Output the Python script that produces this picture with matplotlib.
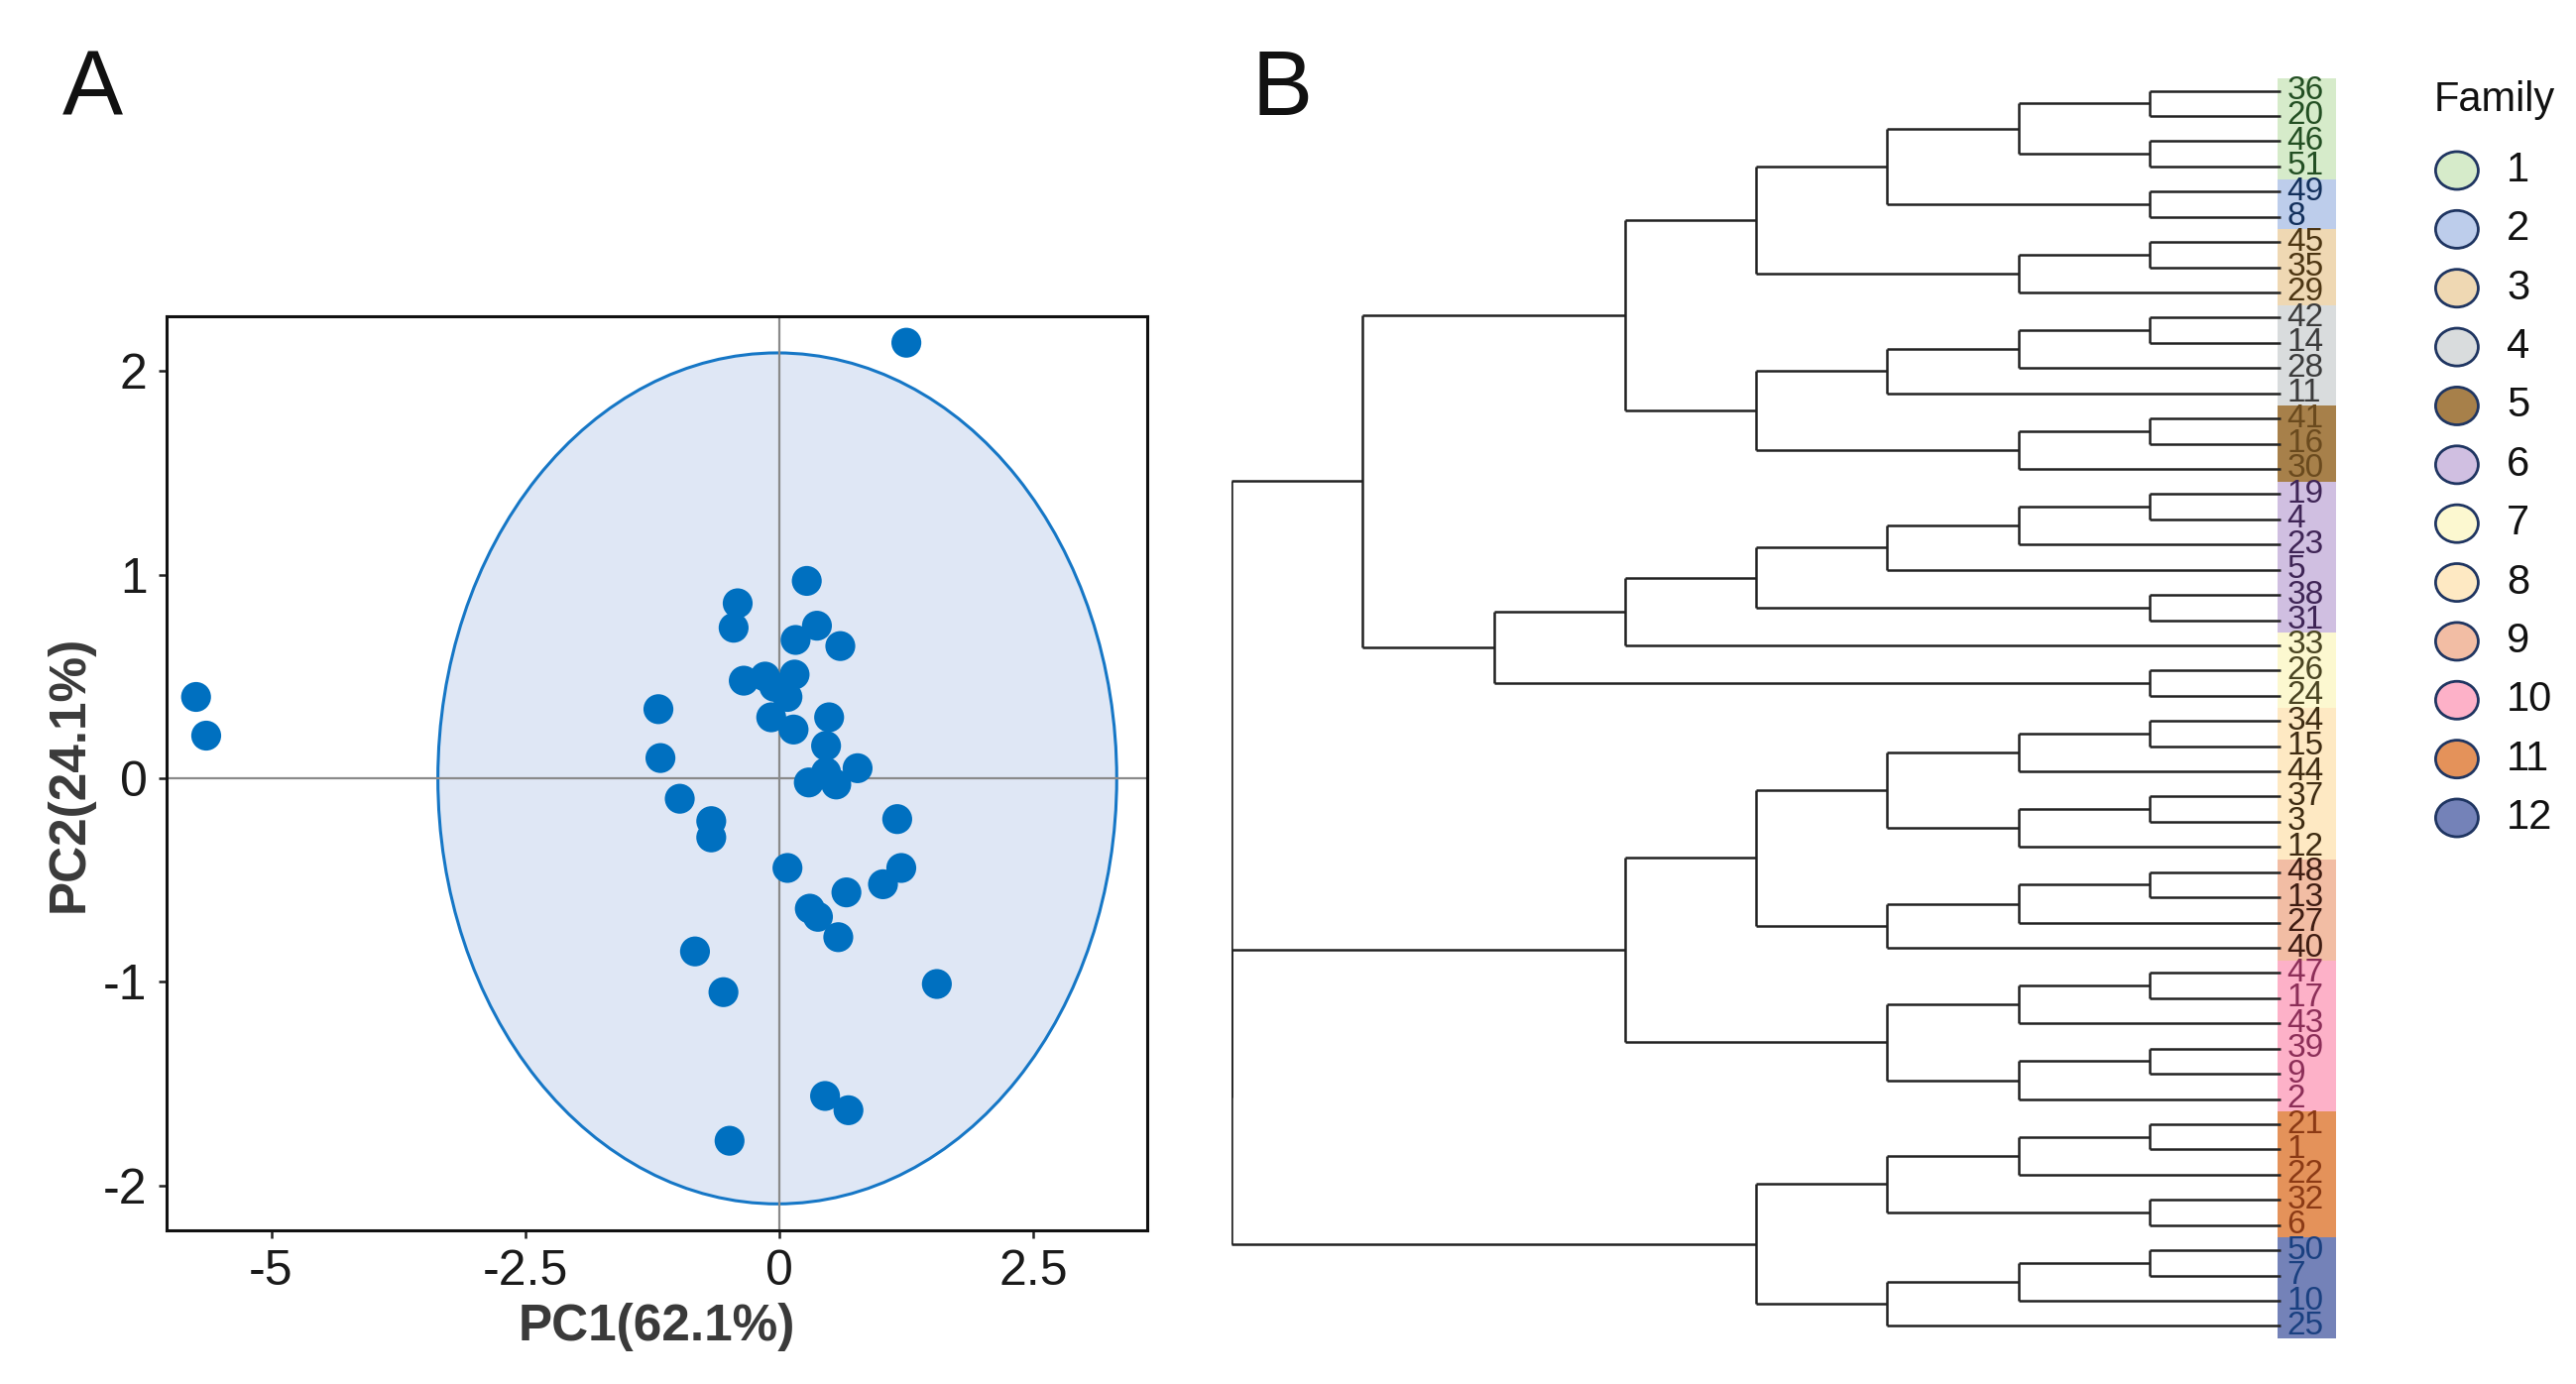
import matplotlib
matplotlib.use('Agg')
import matplotlib.pyplot as plt
from matplotlib.patches import Ellipse, Rectangle
from matplotlib.path import Path
from matplotlib.transforms import Affine2D

plt.rcParams['font.family'] = ['Liberation Sans', 'DejaVu Sans']
plt.rcParams['axes.unicode_minus'] = False

# ---------------- Panel A data (PCA scores) ----------------
pc1 = [1.25, -5.74, -5.64, 0.27, -0.41, -0.45, 0.37, 0.16, 0.60, -0.35, -0.14,
       -0.05, 0.15, 0.08, -1.19, -0.08, 0.49, 0.14, 0.46, -1.17, 0.77, 0.46,
       0.29, 0.56, -0.98, -0.67, -0.67, 1.16, 0.08, 1.20, 1.02, 0.66, 0.30,
       0.38, 0.58, -0.83, 1.55, -0.55, 0.45, 0.68, -0.49]
pc2 = [2.14, 0.40, 0.21, 0.97, 0.86, 0.74, 0.75, 0.68, 0.65, 0.48, 0.50,
       0.45, 0.51, 0.40, 0.34, 0.30, 0.30, 0.24, 0.16, 0.10, 0.05, 0.03,
       -0.02, -0.03, -0.10, -0.21, -0.29, -0.20, -0.44, -0.44, -0.52, -0.56, -0.64,
       -0.68, -0.78, -0.85, -1.01, -1.05, -1.56, -1.63, -1.78]
ellipse_center = (-0.02, 0.0)
ellipse_width = 6.68
ellipse_height = 4.18
x_ticks = [-5, -2.5, 0, 2.5]
x_tick_labels = ['-5', '-2.5', '0', '2.5']
y_ticks = [-2, -1, 0, 1, 2]
y_tick_labels = ['-2', '-1', '0', '1', '2']
x_label = 'PC1(62.1%)'
y_label = 'PC2(24.1%)'

# ---------------- Panel B data (dendrogram) ----------------
# internal node = (height, left, right); leaves = sample labels
tree = (8,
        (7,
         (5,
          (4,
           (3, (2, (1, '36', '20'), (1, '46', '51')), (1, '49', '8')),
           (2, (1, '45', '35'), '29')),
          (4,
           (3, (2, (1, '42', '14'), '28'), '11'),
           (2, (1, '41', '16'), '30'))),
         (6,
          (5,
           (4, (3, (2, (1, '19', '4'), '23'), '5'), (1, '38', '31')),
           '33'),
          (1, '26', '24'))),
        (8,
         (5,
          (4,
           (3, (2, (1, '34', '15'), '44'), (2, (1, '37', '3'), '12')),
           (3, (2, (1, '48', '13'), '27'), '40')),
          (3, (2, (1, '47', '17'), '43'), (2, (1, '39', '9'), '2'))),
         (4,
          (3, (2, (1, '21', '1'), '22'), (1, '32', '6')),
          (3, (2, (1, '50', '7'), '10'), '25'))))

family_names = ['1', '2', '3', '4', '5', '6', '7', '8', '9', '10', '11', '12']
family_members = [
    ['36', '20', '46', '51'],
    ['49', '8'],
    ['45', '35', '29'],
    ['42', '14', '28', '11'],
    ['41', '16', '30'],
    ['19', '4', '23', '5', '38', '31'],
    ['33', '26', '24'],
    ['34', '15', '44', '37', '3', '12'],
    ['48', '13', '27', '40'],
    ['47', '17', '43', '39', '9', '2'],
    ['21', '1', '22', '32', '6'],
    ['50', '7', '10', '25'],
]
family_fill = ['#d6ebca', '#bdcdeb', '#efd8b3', '#d9dcdd', '#a7804a', '#d0bfe1',
               '#fcf8d0', '#fee9c3', '#f2bda4', '#fdb1c8', '#e4925a', '#7482b8']
family_text = ['#234f23', '#13305c', '#4d3613', '#3c3c3c', '#6a4a1e', '#3f2556',
               '#4a4522', '#3f2c12', '#3e1c12', '#8c2e58', '#8b3a15', '#1a4080']

# ---------------- figure ----------------
W, H, DPI = 2598, 1396, 200
fig = plt.figure(figsize=(W / DPI, H / DPI), dpi=DPI)
fig.patch.set_facecolor('white')


def px_axes(x0, y0, x1, y1):
    return fig.add_axes([x0 / W, 1 - y1 / H, (x1 - x0) / W, (y1 - y0) / H])


# ---------- Panel A ----------
ax = px_axes(168, 319, 1157, 1241)
ax.set_xlim(-6.03, 3.62)
ax.set_ylim(-2.22, 2.27)
ax.add_patch(Ellipse(ellipse_center, ellipse_width, ellipse_height,
                     facecolor='#dfe7f5', edgecolor='#1677c6', lw=1.1, zorder=1))
ax.axhline(0, color='#8a8a8a', lw=0.8, zorder=2)
ax.axvline(0, color='#8a8a8a', lw=0.8, zorder=2)
ax.scatter(pc1, pc2, s=118, color='#0070c0', edgecolors='none', zorder=3)
ax.set_xticks(x_ticks)
ax.set_xticklabels(x_tick_labels)
ax.set_yticks(y_ticks)
ax.set_yticklabels(y_tick_labels)
ax.tick_params(labelsize=18, length=3, width=0.9, color='#222222',
               labelcolor='#1a1a1a', direction='out')
ax.tick_params(axis='x', pad=4)
ax.tick_params(axis='y', pad=4)
for sp in ax.spines.values():
    sp.set_linewidth(1.1)
    sp.set_color('#111111')
ax.set_xlabel(x_label, fontsize=18.5, fontweight='bold', color='#3a3a3a')
ax.set_ylabel(y_label, fontsize=18.5, fontweight='bold', color='#3a3a3a')
ax.xaxis.label.set_va('center')
ax.yaxis.label.set_va('center')
ax.xaxis.set_label_coords(0.4995, -0.106)
ax.yaxis.set_label_coords(-0.099, 0.5)

# ---------- Panel B ----------
n_leaves = sum(len(m) for m in family_members)
axd = px_axes(1242, 78.8, 2356, 1350.2)
axd.set_xlim(8, -0.4234)
axd.set_ylim(n_leaves - 0.5, -0.5)
axd.axis('off')

leaf_pos = {}
counter = [0]
line_kw = dict(color='#222222', lw=0.9, solid_capstyle='butt')


def draw(node):
    if isinstance(node, str):
        y = counter[0]
        counter[0] += 1
        leaf_pos[node] = y
        return 0.0, float(y)
    h, a, b = node
    ha_, ya = draw(a)
    hb_, yb = draw(b)
    axd.plot([ha_, h], [ya, ya], **line_kw)
    axd.plot([hb_, h], [yb, yb], **line_kw)
    axd.plot([h, h], [ya, yb], **line_kw)
    return h, (ya + yb) / 2


draw(tree)

for fi, members in enumerate(family_members):
    ys = [leaf_pos[m] for m in members]
    y0, y1 = min(ys) - 0.5, max(ys) + 0.5
    axd.add_patch(Rectangle((-0.4234, y0), 0.4461, y1 - y0, facecolor=family_fill[fi],
                            edgecolor='none', zorder=0, clip_on=False))
    for m in members:
        axd.text(-0.05, leaf_pos[m], m, fontsize=12, color=family_text[fi],
                 ha='left', va='center', zorder=3, clip_on=False)

# ---------- Legend ----------
ell_marker = Path.unit_circle().transformed(Affine2D().scale(1.13, 1.0))
axl = px_axes(2440, 142.3, 2598, 854.7)
axl.set_xlim(0, 1)
axl.set_ylim(len(family_names) - 0.5, -0.5)
axl.axis('off')
axl.scatter([0.24] * len(family_names), list(range(len(family_names))), s=240,
            marker=ell_marker, c=family_fill, edgecolors='#1f3561', linewidths=1.0,
            clip_on=False)
for i, name in enumerate(family_names):
    axl.text(0.557, i, name, fontsize=15, ha='left', va='center', color='#111111')
axl.text(0.095, -1.2, 'Family', fontsize=15, ha='left', va='center', color='#111111')

# ---------- Panel letters ----------
fig.text(63 / W, 1 - 116 / H, 'A', fontsize=33, color='#111111', va='baseline')
fig.text(1263 / W, 1 - 116 / H, 'B', fontsize=33, color='#111111', va='baseline')

fig.savefig('out.png', dpi=DPI, facecolor='white')
